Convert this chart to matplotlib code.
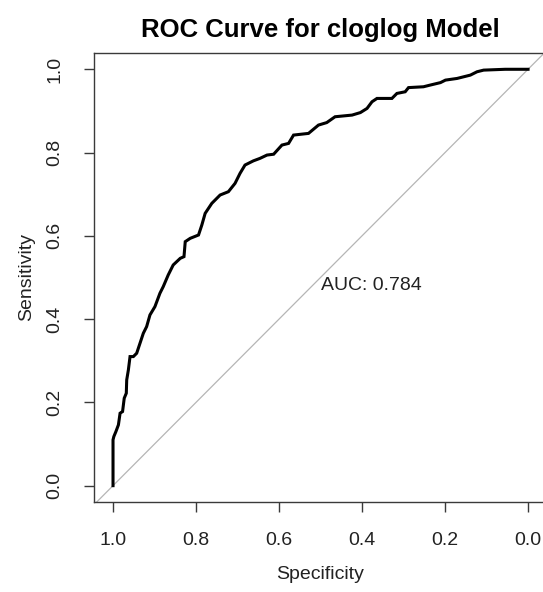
import matplotlib
matplotlib.use("Agg")
import matplotlib.pyplot as plt

# ROC curve points (specificity, sensitivity)
specificity = [1.0, 1.0, 0.998, 0.993, 0.987, 0.983, 0.977, 0.973, 0.968, 0.967,
               0.963, 0.959, 0.951, 0.943, 0.935, 0.927, 0.919, 0.911, 0.899, 0.887,
               0.879, 0.867, 0.855, 0.838, 0.829, 0.826, 0.814, 0.794, 0.786, 0.778,
               0.762, 0.742, 0.722, 0.706, 0.694, 0.682, 0.662, 0.646, 0.629, 0.613,
               0.593, 0.577, 0.565, 0.529, 0.505, 0.485, 0.465, 0.424, 0.404, 0.388,
               0.376, 0.364, 0.328, 0.316, 0.296, 0.288, 0.252, 0.236, 0.211, 0.199,
               0.171, 0.139, 0.123, 0.107, 0.055, 0.0]
sensitivity = [0.0, 0.110, 0.118, 0.130, 0.146, 0.174, 0.178, 0.210, 0.222, 0.254,
               0.278, 0.310, 0.310, 0.318, 0.342, 0.366, 0.382, 0.410, 0.430, 0.462,
               0.478, 0.506, 0.530, 0.546, 0.550, 0.586, 0.594, 0.602, 0.626, 0.654,
               0.678, 0.698, 0.706, 0.726, 0.750, 0.770, 0.780, 0.786, 0.794, 0.796,
               0.818, 0.822, 0.842, 0.846, 0.866, 0.872, 0.886, 0.890, 0.896, 0.906,
               0.922, 0.930, 0.930, 0.942, 0.946, 0.956, 0.958, 0.962, 0.968, 0.974,
               0.978, 0.986, 0.994, 0.998, 1.0, 1.0]
auc_value = 0.784
ticks = [1.0, 0.8, 0.6, 0.4, 0.2, 0.0]
tick_labels = ["1.0", "0.8", "0.6", "0.4", "0.2", "0.0"]

plt.rcParams['font.family'] = ['Liberation Sans', 'DejaVu Sans']
txt = '#222222'

fig = plt.figure(figsize=(5.43, 5.92), dpi=100)
ax = fig.add_axes([0.1726, 0.1515, 0.8354, 0.7596])

# chance diagonal
ax.axline((1, 0), (0, 1), color='#b5b5b5', linewidth=0.9, zorder=1)
ax.plot(specificity, sensitivity, color='black', linewidth=2.2,
        solid_joinstyle='miter', zorder=2)

ax.set_xlim(1.0465, -0.0465)
ax.set_ylim(-0.04, 1.04)

ax.set_xticks(ticks)
ax.set_xticklabels(tick_labels)
ax.set_yticks(ticks)
ax.set_yticklabels(tick_labels, rotation=90, va='center')
ax.tick_params(axis='both', direction='out', length=7.5, width=1,
               color='#3a3a3a', labelsize=14, labelcolor=txt)
ax.tick_params(axis='x', pad=14)
ax.tick_params(axis='y', pad=14.5)

for s in ax.spines.values():
    s.set_color('#3a3a3a')
    s.set_linewidth(1)

ax.set_xlabel('Specificity', fontsize=14, color=txt, labelpad=12)
ax.set_ylabel('Sensitivity', fontsize=14, color=txt, labelpad=8)
ax.set_title('ROC Curve for cloglog Model', fontsize=18.5, fontweight='bold',
             color='black', pad=11)

ax.text(0.5, 0.5, f'AUC: {auc_value:.3f}', ha='left', va='top',
        fontsize=14, color=txt)

fig.savefig('out.png', dpi=100)
